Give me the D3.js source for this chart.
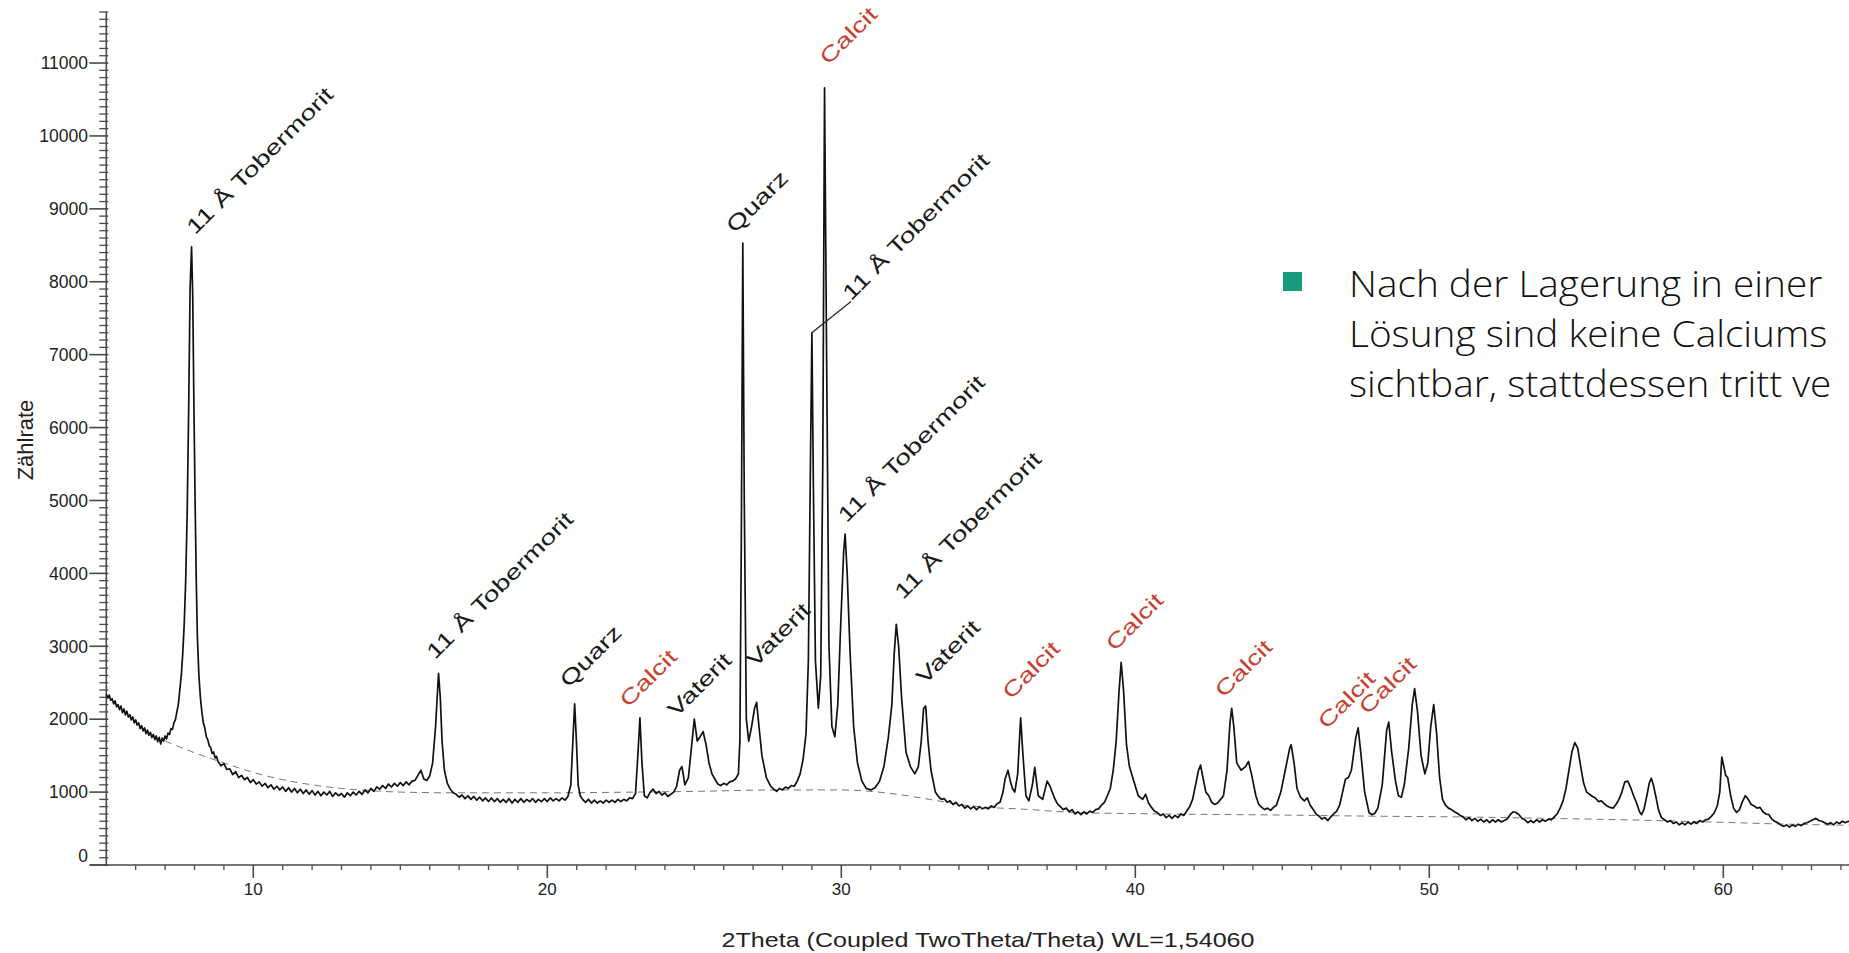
<!DOCTYPE html>
<html>
<head>
<meta charset="utf-8">
<script src="https://cdn.jsdelivr.net/npm/d3@7"></script>
<style>
  body { margin: 0; background: #fff; overflow: hidden; }
  .lbl { font-family: "Liberation Sans", Arial, sans-serif; }
  .slide { font-family: "Open Sans", "Noto Sans", sans-serif; font-weight: 300; }
</style>
</head>
<body>
<svg id="chart" width="1849" height="953"></svg>
<script>
const pattern = [
  [5.00,2340],[5.05,2290],[5.10,2330],[5.15,2260],[5.20,2280],[5.25,2210],[5.30,2250],[5.35,2170],[5.40,2200],[5.45,2130],
  [5.50,2180],[5.55,2090],[5.60,2140],[5.65,2060],[5.70,2110],[5.75,2030],[5.80,2060],[5.85,1990],[5.90,2030],[5.95,1950],
  [6.00,1990],[6.05,1920],[6.10,1950],[6.15,1870],[6.20,1910],[6.25,1840],[6.30,1880],[6.35,1800],[6.40,1850],[6.45,1780],
  [6.50,1820],[6.55,1750],[6.60,1790],[6.65,1720],[6.70,1770],[6.75,1690],[6.80,1750],[6.85,1660],[6.90,1740],[6.95,1700],
  [7.00,1770],[7.05,1730],[7.10,1810],[7.15,1790],[7.20,1870],[7.25,1860],[7.30,1950],[7.35,1990],[7.40,2100],[7.45,2200],
  [7.50,2400],[7.55,2600],[7.60,2900],[7.65,3300],[7.70,3900],[7.75,4800],[7.80,6200],[7.85,7900],[7.90,8480],[7.94,7800],
  [7.98,6300],[8.02,5000],[8.06,3900],[8.10,3100],[8.15,2600],[8.20,2300],[8.25,2100],[8.30,1950],[8.35,1880],[8.40,1760],
  [8.45,1720],[8.50,1640],[8.55,1610],[8.60,1530],[8.65,1550],[8.70,1470],[8.75,1490],[8.80,1420],[8.90,1360],[9.00,1390],
  [9.10,1310],[9.20,1320],[9.30,1240],[9.40,1280],[9.50,1200],[9.60,1230],[9.70,1170],[9.80,1200],[9.90,1130],[10.0,1170],
  [10.1,1110],[10.2,1140],[10.3,1080],[10.4,1120],[10.5,1060],[10.6,1100],[10.7,1040],[10.8,1080],[10.9,1030],[11.0,1070],
  [11.1,1010],[11.2,1060],[11.3,1000],[11.4,1050],[11.5,990],[11.6,1040],[11.7,980],[11.8,1030],[11.9,970],[12.0,1020],
  [12.1,960],[12.2,1010],[12.3,950],[12.4,1000],[12.5,960],[12.6,1010],[12.7,940],[12.8,990],[12.9,950],[13.0,980],
  [13.1,930],[13.2,990],[13.3,950],[13.4,1000],[13.5,960],[13.6,1010],[13.7,970],[13.8,1030],[13.9,990],[14.0,1050],
  [14.1,1010],[14.2,1070],[14.3,1040],[14.4,1090],[14.5,1050],[14.6,1110],[14.7,1070],[14.8,1120],[14.9,1080],[15.0,1130],
  [15.1,1090],[15.2,1140],[15.3,1100],[15.4,1150],[15.5,1160],[15.6,1230],[15.7,1300],[15.75,1240],[15.8,1180],[15.9,1160],
  [16.0,1220],[16.1,1400],[16.2,1900],[16.3,2630],[16.36,2300],[16.42,1700],[16.5,1300],[16.6,1120],[16.7,1040],[16.8,990],
  [16.9,970],[17.0,930],[17.1,960],[17.2,910],[17.3,950],[17.4,900],[17.5,940],[17.6,890],[17.7,930],[17.8,880],
  [17.9,920],[18.0,870],[18.1,920],[18.2,870],[18.3,910],[18.4,860],[18.5,900],[18.6,860],[18.7,910],[18.8,850],
  [18.9,900],[19.0,860],[19.1,910],[19.2,860],[19.3,900],[19.4,870],[19.5,910],[19.6,860],[19.7,900],[19.8,870],
  [19.9,910],[20.0,870],[20.1,920],[20.2,880],[20.3,910],[20.4,880],[20.5,920],[20.6,890],[20.7,940],[20.8,1100],
  [20.87,1700],[20.93,2210],[20.99,1700],[21.05,1100],[21.12,950],[21.2,900],[21.3,860],[21.4,900],[21.5,850],[21.6,890],
  [21.7,850],[21.8,880],[21.9,850],[22.0,890],[22.1,860],[22.2,890],[22.3,860],[22.4,900],[22.5,870],[22.6,900],
  [22.7,880],[22.8,920],[22.9,910],[23.0,980],[23.08,1500],[23.15,2020],[23.22,1400],[23.3,950],[23.4,920],[23.5,1000],
  [23.6,1040],[23.7,980],[23.8,1010],[23.9,960],[24.0,990],[24.1,940],[24.2,970],[24.3,1000],[24.4,1080],[24.5,1300],
  [24.58,1350],[24.68,1100],[24.8,1200],[24.9,1600],[25.0,2000],[25.1,1700],[25.2,1760],[25.3,1830],[25.4,1650],[25.5,1400],
  [25.6,1250],[25.7,1180],[25.8,1110],[25.9,1090],[26.0,1120],[26.1,1100],[26.2,1140],[26.3,1150],[26.4,1180],[26.5,1250],
  [26.55,1700],[26.6,4500],[26.65,8530],[26.7,5000],[26.77,2000],[26.85,1700],[26.95,1900],[27.05,2150],[27.12,2230],[27.2,1900],
  [27.3,1500],[27.45,1200],[27.6,1080],[27.7,1040],[27.8,1010],[27.9,1050],[28.0,1030],[28.1,1070],[28.2,1050],[28.3,1090],
  [28.4,1080],[28.5,1150],[28.6,1250],[28.7,1450],[28.8,1800],[28.88,2800],[28.95,5500],[29.0,7300],[29.05,5200],[29.12,2800],
  [29.22,2150],[29.3,2600],[29.37,5500],[29.43,10660],[29.5,7000],[29.58,3000],[29.68,1900],[29.78,1760],[29.88,2200],[29.98,3300],
  [30.08,4300],[30.13,4540],[30.2,4000],[30.3,2900],[30.42,1900],[30.55,1400],[30.7,1150],[30.85,1050],[31.0,1030],[31.15,1060],
  [31.3,1150],[31.45,1350],[31.6,1750],[31.72,2200],[31.8,2900],[31.87,3300],[31.95,3000],[32.05,2300],[32.2,1550],[32.35,1350],
  [32.5,1250],[32.62,1350],[32.72,1700],[32.8,2150],[32.87,2180],[32.95,1700],[33.05,1300],[33.2,1000],[33.3,940],[33.4,900],
  [33.5,910],[33.6,860],[33.7,880],[33.8,830],[33.9,860],[34.0,810],[34.1,830],[34.2,780],[34.3,810],[34.4,770],
  [34.5,800],[34.6,760],[34.7,800],[34.8,770],[34.9,790],[35.0,770],[35.1,810],[35.2,790],[35.3,840],[35.4,860],
  [35.5,1000],[35.57,1180],[35.67,1300],[35.75,1150],[35.82,1050],[35.9,1000],[36.0,1250],[36.1,2020],[36.18,1500],[36.28,950],
  [36.38,880],[36.5,1100],[36.58,1340],[36.7,950],[36.85,900],[37.0,1150],[37.1,1080],[37.25,920],[37.35,840],[37.45,800],
  [37.55,760],[37.65,780],[37.75,730],[37.85,760],[37.95,700],[38.05,730],[38.15,690],[38.25,730],[38.35,700],[38.45,740],
  [38.55,720],[38.65,760],[38.75,770],[38.85,820],[38.95,860],[39.05,950],[39.15,1050],[39.25,1300],[39.35,1700],[39.45,2400],
  [39.52,2780],[39.6,2400],[39.7,1650],[39.8,1350],[39.95,1150],[40.1,950],[40.25,900],[40.35,970],[40.45,850],[40.55,790],
  [40.65,740],[40.75,720],[40.85,680],[40.95,700],[41.05,650],[41.15,680],[41.25,640],[41.35,680],[41.45,650],[41.55,700],
  [41.65,680],[41.75,740],[41.85,800],[41.95,900],[42.05,1100],[42.15,1300],[42.22,1370],[42.3,1200],[42.4,1000],[42.5,950],
  [42.6,860],[42.7,830],[42.8,850],[42.9,900],[43.0,950],[43.12,1300],[43.22,1950],[43.28,2150],[43.35,1900],[43.45,1400],
  [43.6,1300],[43.75,1350],[43.85,1420],[43.95,1250],[44.1,950],[44.2,830],[44.3,790],[44.4,760],[44.5,780],[44.6,750],
  [44.7,790],[44.8,820],[44.95,1000],[45.1,1300],[45.25,1600],[45.3,1650],[45.4,1400],[45.5,1050],[45.62,930],[45.75,880],
  [45.85,920],[45.95,820],[46.05,760],[46.15,700],[46.25,670],[46.35,630],[46.45,650],[46.55,610],[46.65,660],[46.75,700],
  [46.85,740],[46.95,820],[47.05,1000],[47.15,1180],[47.25,1200],[47.35,1300],[47.5,1750],[47.58,1880],[47.68,1500],[47.8,1000],
  [47.95,720],[48.05,690],[48.15,710],[48.25,780],[48.4,1100],[48.55,1850],[48.62,1960],[48.72,1550],[48.85,1150],[48.95,950],
  [49.05,930],[49.15,1100],[49.3,1600],[49.42,2200],[49.5,2420],[49.6,2100],[49.72,1500],[49.85,1250],[49.95,1400],[50.05,1900],
  [50.15,2200],[50.25,1800],[50.35,1200],[50.45,900],[50.55,820],[50.65,780],[50.75,760],[50.85,730],[50.95,710],[51.05,680],
  [51.15,660],[51.25,620],[51.35,650],[51.45,610],[51.55,640],[51.65,600],[51.75,630],[51.85,590],[51.95,620],[52.05,580],
  [52.15,620],[52.25,590],[52.35,620],[52.45,590],[52.55,610],[52.65,630],[52.75,690],[52.85,730],[52.95,720],[53.05,690],
  [53.15,640],[53.25,620],[53.35,580],[53.45,610],[53.55,580],[53.65,620],[53.75,590],[53.85,620],[53.95,600],[54.05,630],
  [54.15,620],[54.25,660],[54.35,700],[54.45,780],[54.55,880],[54.65,1050],[54.75,1300],[54.85,1550],[54.95,1680],[55.05,1600],
  [55.15,1350],[55.25,1120],[55.35,1000],[55.45,970],[55.55,940],[55.65,920],[55.75,870],[55.85,880],[55.95,840],[56.05,810],
  [56.15,790],[56.25,780],[56.35,830],[56.45,900],[56.55,1000],[56.65,1140],[56.75,1150],[56.85,1060],[56.95,950],[57.05,850],
  [57.15,730],[57.22,690],[57.3,760],[57.4,950],[57.48,1120],[57.55,1190],[57.62,1100],[57.7,950],[57.8,750],[57.9,650],
  [58.0,620],[58.1,590],[58.2,610],[58.3,570],[58.4,590],[58.5,550],[58.6,580],[58.7,550],[58.8,590],[58.9,560],
  [59.0,590],[59.1,570],[59.2,610],[59.3,590],[59.4,620],[59.5,630],[59.6,670],[59.7,720],[59.8,820],[59.88,1000],
  [59.95,1480],[60.02,1350],[60.08,1230],[60.15,1200],[60.25,950],[60.35,780],[60.45,720],[60.55,760],[60.65,870],[60.75,950],
  [60.85,900],[60.95,830],[61.05,810],[61.15,780],[61.25,790],[61.35,730],[61.45,700],[61.55,690],[61.65,630],[61.75,600],
  [61.85,580],[61.95,550],[62.05,530],[62.15,550],[62.25,520],[62.35,550],[62.45,530],[62.55,560],[62.65,540],[62.75,570],
  [62.85,580],[62.95,600],[63.05,620],[63.15,640],[63.25,610],[63.35,600],[63.45,580],[63.55,560],[63.65,580],[63.75,550],
  [63.85,590],[63.95,570],[64.05,600],[64.15,580],[64.25,600],[64.35,590]
];

// fitted background (dashed): [2Theta, counts]
const background = [
  [7.0,1700],[8.0,1540],[9.0,1400],[10.0,1270],[11.0,1170],[12.0,1100],[13.0,1050],[14.0,1020],[15.0,1000],[17.0,990],
  [20.0,990],[23.0,1000],[25.0,1010],[28.0,1030],[30.0,1030],[31.5,990],[33.0,900],[34.0,830],[35.0,790],[36.0,770],
  [38.0,720],[40.0,705],[45.0,685],[48.0,670],[51.0,660],[54.0,640],[57.0,617],[60.0,585],[62.0,562],[64.3,545]
];

// phase labels: text, anchor 2Theta, anchor counts
const labelText = ["11 Å Tobermorit", "11 Å Tobermorit", "Quarz", "Calcit", "Vaterit", "Vaterit", "Quarz", "Calcit",
  "11 Å Tobermorit", "11 Å Tobermorit", "11 Å Tobermorit", "Vaterit", "Calcit", "Calcit", "Calcit", "Calcit", "Calcit"];
const labelTheta = [8.02, 16.18, 20.72, 22.75, 24.39, 27.07, 26.38, 29.56, 30.33, 30.18, 32.1, 32.84, 35.77, 39.29, 43.0, 46.5, 47.9];
const labelCounts = [8634, 2809, 2421, 2150, 2015, 2700, 8656, 10963, 7730, 4683, 3632, 2467, 2261, 2923, 2284, 1850, 2050];
// leader from the 29.0 peak top to label 8
const leaderFrom = [29.0, 7300];
const leaderLabel = 8;

const yTicks = d3.range(0, 11001, 1000);
const yMinor = d3.range(0, 11701, 100);
const xTicks = [10, 20, 30, 40, 50, 60];
const xMinor = d3.range(6, 65, 1);

const bullet = ["Nach der Lagerung in einer", "Lösung sind keine Calciums", "sichtbar, stattdessen tritt ve"];

const RED = "#c8402f";
const svg = d3.select("#chart");

const x = d3.scaleLinear().domain([5, 65]).range([106.3, 1870.3]);
const y = d3.scaleLinear().domain([0, 11700]).range([865, 12]);

// axes
const axis = svg.append("g").attr("stroke", "#4a4a4a").attr("stroke-width", 1.6);
axis.append("line").attr("x1", 90).attr("x2", 1849).attr("y1", y(0)).attr("y2", y(0));
axis.append("line").attr("x1", x(5)).attr("x2", x(5)).attr("y1", y(0)).attr("y2", y(11700));

axis.selectAll(".ym").data(yMinor.filter(d => d % 1000 !== 0)).enter().append("line")
  .attr("x1", x(5) - 7).attr("x2", x(5) + 2)
  .attr("y1", d => y(d)).attr("y2", d => y(d)).attr("stroke-width", 1.3);
axis.selectAll(".yM").data(yTicks).enter().append("line")
  .attr("x1", x(5) - 17).attr("x2", x(5) + 2)
  .attr("y1", d => y(d)).attr("y2", d => y(d));
axis.selectAll(".xm").data(xMinor.filter(d => d % 10 !== 0)).enter().append("line")
  .attr("x1", d => x(d)).attr("x2", d => x(d))
  .attr("y1", y(0)).attr("y2", y(0) + 5).attr("stroke-width", 1.3);
axis.selectAll(".xM").data(xTicks).enter().append("line")
  .attr("x1", d => x(d)).attr("x2", d => x(d))
  .attr("y1", y(0)).attr("y2", y(0) + 13);

svg.selectAll(".yl").data(yTicks).enter().append("text").attr("class", "lbl")
  .attr("x", 88).attr("y", d => y(d) - (d === 0 ? 9 : 0))
  .attr("dy", "0.36em").attr("text-anchor", "end")
  .attr("font-size", 17.5).attr("fill", "#222").text(d => d);
svg.selectAll(".xl").data(xTicks).enter().append("text").attr("class", "lbl")
  .attr("x", d => x(d)).attr("y", 895).attr("text-anchor", "middle")
  .attr("font-size", 17).attr("fill", "#222").text(d => d);

svg.append("text").attr("class", "lbl").attr("transform", "translate(33,440) rotate(-90)")
  .attr("text-anchor", "middle").attr("font-size", 22).attr("fill", "#222").text("Zählrate");
svg.append("text").attr("class", "lbl").attr("x", 988).attr("y", 947).attr("text-anchor", "middle")
  .attr("font-size", 21).attr("fill", "#222")
  .attr("textLength", 533).attr("lengthAdjust", "spacingAndGlyphs")
  .text("2Theta (Coupled TwoTheta/Theta) WL=1,54060");

// background
svg.append("path").datum(background)
  .attr("fill", "none").attr("stroke", "#777").attr("stroke-width", 1)
  .attr("stroke-dasharray", "7,5")
  .attr("d", d3.line().x(d => x(d[0])).y(d => y(d[1])).curve(d3.curveMonotoneX));

// pattern
svg.append("path").datum(pattern)
  .attr("fill", "none").attr("stroke", "#111").attr("stroke-width", 1.7)
  .attr("stroke-linejoin", "round")
  .attr("d", d3.line().x(d => x(d[0])).y(d => y(d[1])));

// leader line
svg.append("line")
  .attr("x1", x(leaderFrom[0])).attr("y1", y(leaderFrom[1]))
  .attr("x2", x(labelTheta[leaderLabel])).attr("y2", y(labelCounts[leaderLabel]))
  .attr("stroke", "#222").attr("stroke-width", 1.2);

// peak labels
svg.selectAll(".pl").data(labelText).enter().append("text").attr("class", "lbl")
  .attr("transform", (d, i) => `translate(${x(labelTheta[i])},${y(labelCounts[i])}) rotate(-45) scale(1.35,1)`)
  .attr("font-size", 21)
  .attr("fill", d => d === "Calcit" ? RED : "#1a1a1a")
  .text(d => d);

// slide text on the right
const tb = svg.append("g");
tb.append("rect").attr("x", 1283).attr("y", 272).attr("width", 19).attr("height", 19).attr("fill", "#179c7d");
tb.selectAll("text").data(bullet).enter().append("text").attr("class", "slide")
  .attr("transform", (d, i) => `translate(1349,${297 + i * 50}) scale(1.077,1)`)
  .attr("font-size", 36).attr("fill", "#111")
  .text(d => d);
</script>
</body>
</html>
